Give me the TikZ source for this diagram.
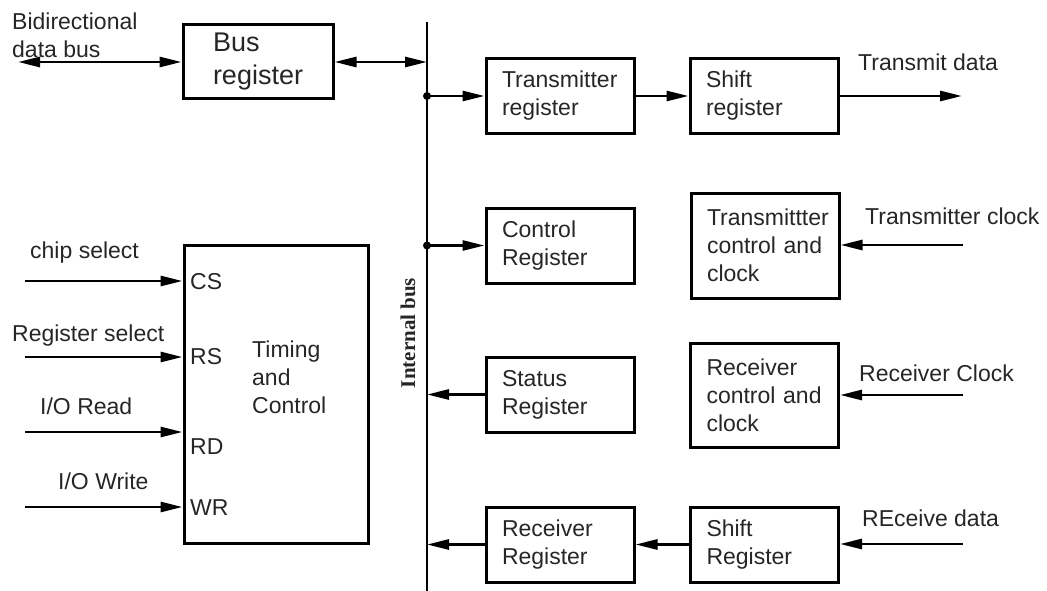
\documentclass[tikz,border=0pt]{standalone}
\usepackage{fontspec}
\setmainfont{Liberation Sans}
\newfontfamily\busfont{Liberation Serif}
\usetikzlibrary{arrows.meta}

\begin{document}
\begin{tikzpicture}[x=1pt, y=-1pt,
  >={Triangle[length=22pt,width=10pt]},
  reg/.style={draw, line width=3pt, minimum width=148pt, minimum height=75pt, text width=116pt, align=left, inner xsep=16pt},
  arr/.style={line width=2.6pt, ->},
  lbl/.style={anchor=west, inner sep=0pt, align=left},
  font=\fontsize{23}{28}\selectfont, text=black!85
]
  \useasboundingbox (0,0) rectangle (1047,591);

  % internal bus
  \coordinate (busTop) at (427,22);
  \coordinate (busBot) at (427,591);
  \draw[line width=2.8pt] (busTop) -- (busBot);
  \node[rotate=90, inner sep=0pt, font=\busfont\bfseries\fontsize{21}{25}\selectfont] (buslbl) at (408,333) {Internal bus};

  % bus register
  \node[reg, minimum width=150pt, minimum height=74pt, text width=90pt, font=\fontsize{27}{33}\selectfont] (busreg) at (258,62) {Bus\\register};
  \coordinate (dataBus) at (18,62);
  \draw[line width=2.6pt, <->] (dataBus) -- (busreg.west);
  \draw[line width=2.6pt, <->] (busreg.east) -- (busTop |- busreg.east);
  \node[lbl] (busLbl) at (12,35) {Bidirectional\\data bus};

  % registers
  \node[reg] (txreg) at (560,96) {Transmitter\\register};
  \node[reg] (txshift) at (764,96) {Shift\\register};
  \node[reg] (ctrlreg) at (560,245.5) {Control\\Register};
  \node[reg, minimum height=105pt] (txctrl) at (765,245.5) {Transmittter\\control and\\clock};
  \node[reg] (statreg) at (560,394.5) {Status\\Register};
  \node[reg, minimum height=104pt] (rxctrl) at (764.5,395) {Receiver\\control and\\clock};
  \node[reg] (rxreg) at (560,544.5) {Receiver\\Register};
  \node[reg] (rxshift) at (764.5,544.5) {Shift\\Register};

  % bus taps
  \fill (busTop |- txreg.west) circle (4pt);
  \fill (busTop |- ctrlreg.west) circle (4pt);
  \draw[arr] (busTop |- txreg.west) -- (txreg.west);
  \draw[arr] (txreg.east) -- (txshift.west);
  \draw[arr] (busTop |- ctrlreg.west) -- (ctrlreg.west);
  \draw[arr] (statreg.west) -- (busTop |- statreg.west);
  \draw[arr] (rxshift.west) -- (rxreg.east);
  \draw[arr] (rxreg.west) -- (busTop |- rxreg.west);

  % serial side
  \coordinate (txOut) at (962,96);
  \coordinate (txClk) at (963,245);
  \coordinate (rxClk) at (963,395);
  \coordinate (rxIn) at (963,544);
  \draw[arr] (txshift.east) -- (txOut);
  \draw[arr] (txClk) -- (txClk -| txctrl.east);
  \draw[arr] (rxClk) -- (rxClk -| rxctrl.east);
  \draw[arr] (rxIn) -- (rxIn -| rxshift.east);
  \node[lbl] (txOutLbl) at (858,62) {Transmit data};
  \node[lbl] (txClkLbl) at (865,216) {Transmitter clock};
  \node[lbl] (rxClkLbl) at (859,373) {Receiver Clock};
  \node[lbl] (rxInLbl) at (862,518) {REceive data};

  % timing and control
  \node[draw, line width=3pt, minimum width=184pt, minimum height=298pt] (timing) at (276,394) {};
  \node[lbl] (timingLbl) at (252,377) {Timing\\and\\Control};
  \node[lbl] (pinCS) at (190,282) {CS};
  \node[lbl] (pinRS) at (190,357) {RS};
  \node[lbl] (pinRD) at (190,447) {RD};
  \node[lbl] (pinWR) at (190,508) {WR};
  \coordinate (csIn) at (25,281);
  \coordinate (rsIn) at (25,357);
  \coordinate (rdIn) at (25,432);
  \coordinate (wrIn) at (25,507);
  \draw[arr] (csIn) -- (csIn -| timing.west);
  \draw[arr] (rsIn) -- (rsIn -| timing.west);
  \draw[arr] (rdIn) -- (rdIn -| timing.west);
  \draw[arr] (wrIn) -- (wrIn -| timing.west);
  \node[lbl] (csLbl) at (30,253) {chip select};
  \node[lbl] (rsLbl) at (12,336) {Register select};
  \node[lbl] (rdLbl) at (40,406) {I/O Read};
  \node[lbl] (wrLbl) at (58,481) {I/O Write};
\end{tikzpicture}
\end{document}
